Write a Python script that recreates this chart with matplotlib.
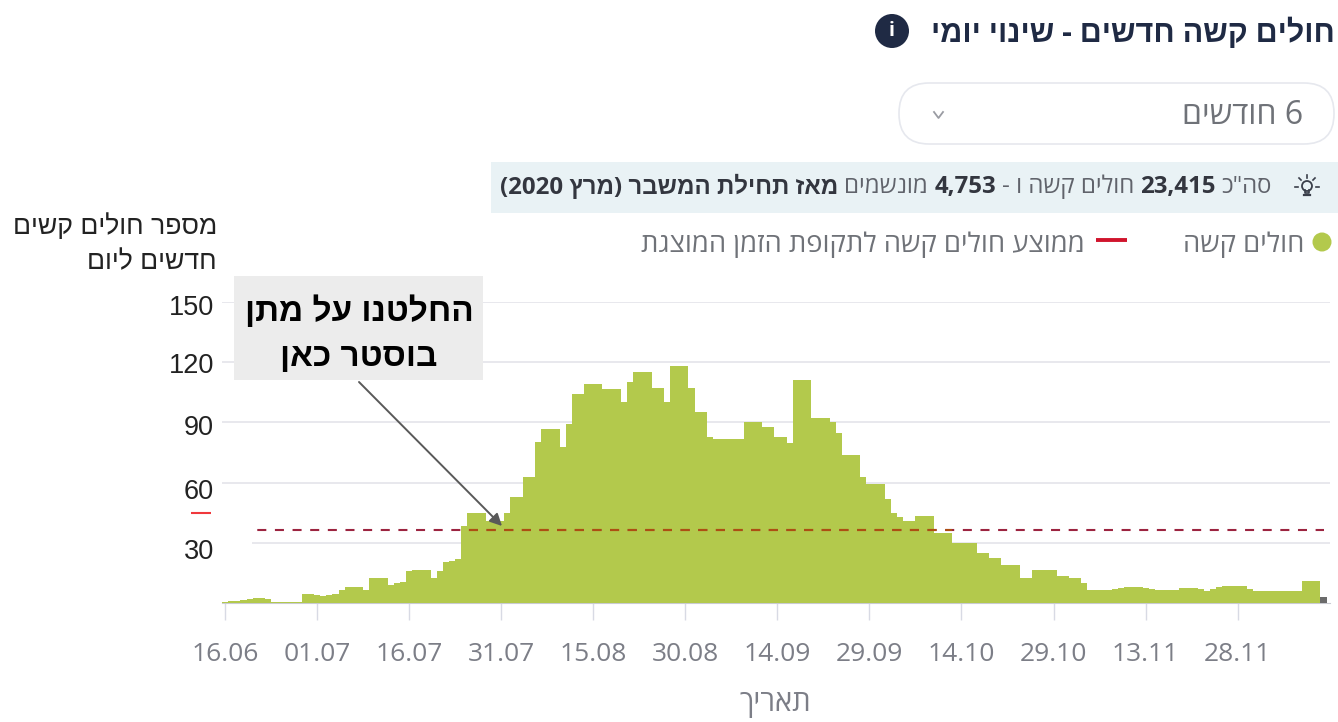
import re
import matplotlib
matplotlib.use('Agg')
import matplotlib.pyplot as plt
from matplotlib.patches import Rectangle, Circle, FancyBboxPatch

plt.rcParams['lines.scale_dashes'] = False

UI_FONT = ['Open Sans', 'Liberation Sans', 'DejaVu Sans']
ARIAL = ['Liberation Sans', 'DejaVu Sans']

# daily new severe cases, starting 16.06
values = [0.5, 1, 1, 1.5, 2, 2.7, 2.7, 2, 0.5, 0.5, 0.5, 0.5, 0.5,
          4.5, 4.5, 4, 3.5, 4, 4.5, 6.5, 8, 8, 8, 6.5,
          12.5, 12.5, 12.5, 9, 10, 10.5, 16, 16.5, 16.5, 16.5, 12.5,
          16, 20.5, 21, 22, 38.5, 44.7, 44.7, 44.7, 41, 41, 41, 44.7,
          52.6, 52.6, 62.7, 62.7, 80, 86.7, 86.7, 86.7, 77.6, 89,
          104, 104, 109, 109, 109, 106.8, 106.8, 106.8, 100.3, 110,
          115, 115, 115, 107, 107, 100, 118, 118, 118, 107, 95.4, 95.4,
          82.5, 81.7, 81.7, 81.7, 81.7, 81.7, 90, 90, 90, 87.9, 87.9,
          82.5, 82.5, 79.5, 111, 111, 111, 92, 92, 92, 90, 84.5,
          73.7, 73.7, 73.7, 63, 59.5, 59.5, 59.5, 52, 44.7, 42.7, 40.7, 40.7,
          43.5, 43.5, 43.5, 34.7, 34.7, 34.7, 29.7, 29.7, 29.7, 29.7,
          24.8, 24.8, 22.4, 22.4, 18.8, 18.8, 18.8, 12.5, 12.5,
          16.6, 16.6, 16.6, 16.6, 13.6, 13.6, 12.5, 12.5, 10,
          6.6, 6.6, 6.6, 6.6, 7, 7.3, 7.8, 7.8, 7.8, 7.5, 7, 6.3, 6.3, 6.6, 6.6,
          7.5, 7.5, 7.5, 7.2, 6.2, 7, 8, 8.3, 8.6, 8.6, 8.3, 7, 5.8, 5.8, 5.8,
          5.8, 5.8, 6, 6, 6, 10.8, 10.8, 10.8, 3]
mean_value = 36.4
tick_labels = ['16.06', '01.07', '16.07', '31.07', '15.08', '30.08', '14.09',
               '29.09', '14.10', '29.10', '13.11', '28.11']
y_ticks = [30, 60, 90, 120, 150]
y_label_pos = [552, 492, 428, 366, 308]

GREEN = '#b3c94c'


def rtl(s):
    # matplotlib has no bidi, so flip by hand and keep numbers in order
    parts = re.findall(r'[0-9][0-9,.]*|.', s)
    out = ''.join(reversed(parts))
    return out.translate(str.maketrans('()', ')('))


fig = plt.figure(figsize=(13.38, 7.22), dpi=100)
ax = fig.add_axes([222 / 1338, 119 / 722, 1108 / 1338, 301 / 722])

days = list(range(len(values)))
colors = [GREEN] * (len(values) - 1) + ['#6b6b6b']
ax.bar(days, values, width=1.0, color=colors, linewidth=0, zorder=3)
dash = [(0, (6.5, 6.2))]
ax.hlines(mean_value, -0.5, 179, color='#9c2440', lw=1.5, linestyles=dash, zorder=4)
# the dashes turn orange-brown where they cross the green bars
over = ax.hlines(mean_value, -0.5, 179, color='#ad4f12', lw=1.5, linestyles=dash, zorder=5)
over.set_clip_path(Rectangle((38.5, 0), 80, 150, transform=ax.transData))

ax.set_xlim(-0.5, 180.05)
ax.set_ylim(0, 150)
ax.set_xticks(range(0, 15 * len(tick_labels), 15))
ax.set_xticklabels(tick_labels, family=UI_FONT, fontsize=19, color='#7c7e87')
ax.set_yticks(y_ticks)
ax.set_yticklabels([])
ax.tick_params(axis='x', length=12.2, width=1, color='#d8dae4', pad=16)
ax.tick_params(axis='y', length=0)
ax.grid(axis='y', color='#e4e4ea', lw=1.2, zorder=1)
ax.set_axisbelow(True)
for name in ['top', 'left', 'right']:
    ax.spines[name].set_visible(False)
ax.spines['bottom'].set_color('#c9cbd2')

# overlay in pixel coordinates for the page furniture and pasted labels
ov = fig.add_axes([0, 0, 1, 1], facecolor='none')
ov.set_xlim(0, 1338)
ov.set_ylim(722, 0)
ov.axis('off')

# white patch pasted over the left end of the plot
ov.add_patch(Rectangle((215, 505), 37, 55, color='white', lw=0))
ov.plot([191, 211], [513, 513], color='#f0383c', lw=1.5, solid_capstyle='butt')

NAVY = '#1f2a44'
ov.text(1335, 33, rtl('חולים קשה חדשים - שינוי יומי'), ha='right', va='center',
        family=UI_FONT, fontsize=22, fontweight='bold', color=NAVY)
ov.add_patch(Circle((892, 31), 17, color=NAVY, lw=0))
ov.text(892, 31, 'i', ha='center', va='center', family=UI_FONT, fontsize=14,
        fontweight='bold', color='white')

ov.add_patch(FancyBboxPatch((899, 83), 435, 61, boxstyle='round,pad=0,rounding_size=30',
                            fc='white', ec='#e6e8ee', lw=1.2))
ov.text(1303, 116, rtl('6 חודשים'), ha='right', va='center', family=UI_FONT,
        fontsize=23, color='#6f7278')
ov.plot([934, 938.5, 943], [112, 118, 112], color='#9a9ca3', lw=1.3)

# info strip, mixed regular and bold runs set right to left
ov.add_patch(Rectangle((491, 162), 847, 51, color='#e9f2f5', lw=0))
renderer = fig.canvas.get_renderer()
runs = [('סה"כ', 'normal', '#60636b'), ('23,415', 'bold', '#33363f'),
        ('חולים קשה ו -', 'normal', '#60636b'), ('4,753', 'bold', '#33363f'),
        ('מונשמים', 'normal', '#60636b'), ('מאז תחילת המשבר (מרץ 2020)', 'bold', '#33363f')]
x = 1272
for run, weight, col in runs:
    t = ov.text(x, 187, rtl(run), ha='right', va='center', family=UI_FONT,
                fontsize=17.3, fontweight=weight, color=col)
    x -= t.get_window_extent(renderer).width + 6

# bulb icon
ov.add_patch(Circle((1307, 186), 5, fc='none', ec='#3a3f4a', lw=1.3))
ov.plot([1304, 1310], [195, 195], color='#3a3f4a', lw=1.6)
ov.plot([1305, 1305, 1309, 1309], [190, 193, 193, 190], color='#3a3f4a', lw=1.2)
for x0, y0, x1, y1 in [(1295, 187, 1298, 187), (1316, 187, 1319, 187), (1307, 175, 1307, 178),
                       (1299, 178, 1301, 180), (1315, 178, 1313, 180)]:
    ov.plot([x0, x1], [y0, y1], color='#3a3f4a', lw=1.2)

# legend
ov.add_patch(Circle((1322, 242), 9.5, color=GREEN, lw=0))
ov.text(1304, 245, rtl('חולים קשה'), ha='right', va='center', family=UI_FONT,
        fontsize=19.7, color='#6f7278')
ov.plot([1096, 1127], [240, 240], color='#d0142c', lw=2.8, solid_capstyle='butt')
ov.text(1085, 245, rtl('ממוצע חולים קשה לתקופת הזמן המוצגת'), ha='right', va='center',
        family=UI_FONT, fontsize=19.7, color='#6f7278')

# pasted axis labels
ov.text(217, 227, rtl('מספר חולים קשים'), ha='right', va='center', family=ARIAL,
        fontsize=19.2, color='#222222')
ov.text(217, 262, rtl('חדשים ליום'), ha='right', va='center', family=ARIAL,
        fontsize=19.2, color='#222222')
for val, ypos in zip(y_ticks, y_label_pos):
    ov.text(214, ypos, str(val), ha='right', va='center', family=ARIAL, fontsize=19.5,
            color='#222222')
ov.text(775, 704, rtl('תאריך'), ha='center', va='center', family=UI_FONT, fontsize=21,
        color='#7c7e87')

# annotation box and arrow
ov.add_patch(Rectangle((234, 276), 249, 104, color='#ececec', lw=0))
ov.text(359, 312, rtl('החלטנו על מתן'), ha='center', va='center', family=ARIAL,
        fontsize=24, fontweight='bold', color='black')
ov.text(359, 357, rtl('בוסטר כאן'), ha='center', va='center', family=ARIAL,
        fontsize=24, fontweight='bold', color='black')
ov.annotate('', xy=(502, 526), xytext=(359, 382),
            arrowprops=dict(arrowstyle='-|>', color='#595959', lw=1.4, mutation_scale=18,
                            shrinkA=0, shrinkB=0))

fig.savefig('out.png', dpi=100)
